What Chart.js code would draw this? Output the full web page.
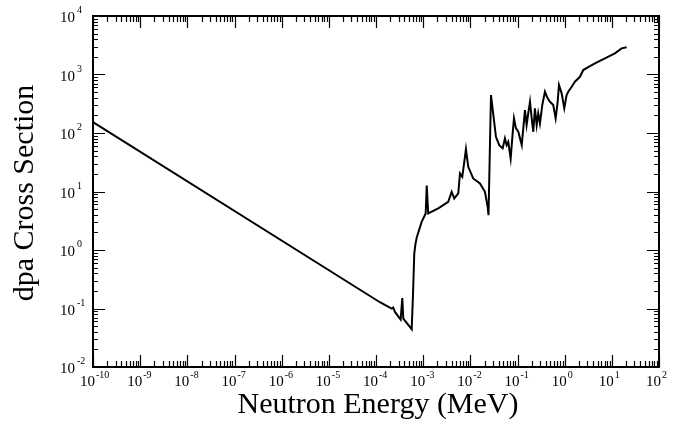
<!DOCTYPE html>
<html>
<head>
<meta charset="utf-8">
<script src="https://cdn.jsdelivr.net/npm/chart.js@4/dist/chart.umd.min.js"></script>
<style>
  html, body { margin: 0; padding: 0; background: #fff; }
  canvas { display: block; }
</style>
</head>
<body>
<canvas id="dpaChart" width="678" height="427"></canvas>
<script>
// neutron energy (MeV) and dpa cross section
const energy = [1e-10, 1.21e-4, 2.15e-4, 2.32e-4, 2.52e-4, 3.33e-4, 3.61e-4, 3.79e-4, 5.71e-4, 6.08e-4,
  6.48e-4, 6.81e-4, 7.28e-4, 9.29e-4, 1.13e-3, 1.19e-3, 1.28e-3, 2.09e-3, 3.40e-3, 4.02e-3,
  4.56e-3, 5.55e-3, 6.03e-3, 6.75e-3, 7.69e-3, 8.07e-3, 9.03e-3, 1.15e-2, 1.60e-2, 2.04e-2,
  2.33e-2, 2.43e-2, 2.74e-2, 3.17e-2, 3.49e-2, 4.10e-2, 4.85e-2, 5.42e-2, 5.89e-2, 6.37e-2,
  7.16e-2, 7.90e-2, 8.42e-2, 9.29e-2, 0.104, 0.123, 0.144, 0.156, 0.169, 0.184,
  0.200, 0.216, 0.234, 0.255, 0.275, 0.299, 0.335, 0.382, 0.436, 0.488,
  0.573, 0.644, 0.711, 0.757, 0.863, 0.981, 1.10, 1.19, 1.41, 1.65,
  2.11, 2.48, 3.44, 4.39, 7.14, 11.6, 16.1, 20.6];
const dpa = [154, 0.128, 0.0998, 0.104, 0.0873, 0.0647, 0.151, 0.0673, 0.0442, 0.169,
  0.871, 1.21, 1.62, 3.03, 4.21, 12.6, 4.21, 5.13, 6.65, 9.86,
  7.60, 9.27, 20.4, 17.8, 39.2, 53.1, 26.4, 16.7, 13.7, 9.86,
  5.46, 3.94, 445, 166, 86.1, 62.1, 54.6, 80.9, 62.1, 70.6,
  36.7, 98.4, 178, 120, 105, 62.1, 247, 136, 216, 342,
  178, 105, 264, 136, 216, 146, 300, 507, 391, 342,
  300, 178, 342, 661, 476, 264, 445, 507, 617, 752,
  914, 1191, 1396, 1552, 1889, 2300, 2800, 2912];

// decade exponents used for tick labels
const xExponents = [-10, -9, -8, -7, -6, -5, -4, -3, -2, -1, 0, 1, 2];
const yExponents = [-2, -1, 0, 1, 2, 3, 4];

const xTitle = 'Neutron Energy (MeV)';
const yTitle = 'dpa Cross Section';

const SERIF = '"Liberation Serif", "DejaVu Serif", serif';

// frame, inward ticks on all four sides, power-of-ten labels, axis titles
const framePlugin = {
  id: 'frame',
  afterDraw(chart) {
    const { ctx, chartArea: a, scales: { x, y } } = chart;
    ctx.save();
    ctx.strokeStyle = '#000';
    ctx.fillStyle = '#000';

    ctx.lineWidth = 1.2;
    ctx.beginPath();
    xExponents.forEach((e, i) => {
      const px = Math.round(x.getPixelForValue(Math.pow(10, e))) + 0.5;
      ctx.moveTo(px, a.bottom); ctx.lineTo(px, a.bottom - 12);
      ctx.moveTo(px, a.top); ctx.lineTo(px, a.top + 12);
      if (i < xExponents.length - 1) {
        for (let m = 2; m <= 9; m++) {
          const mx = Math.round(x.getPixelForValue(m * Math.pow(10, e))) + 0.5;
          ctx.moveTo(mx, a.bottom); ctx.lineTo(mx, a.bottom - 6);
          ctx.moveTo(mx, a.top); ctx.lineTo(mx, a.top + 6);
        }
      }
    });
    yExponents.forEach((e, i) => {
      const py = Math.round(y.getPixelForValue(Math.pow(10, e))) + 0.5;
      ctx.moveTo(a.left, py); ctx.lineTo(a.left + 12, py);
      ctx.moveTo(a.right, py); ctx.lineTo(a.right - 12, py);
      if (i < yExponents.length - 1) {
        for (let m = 2; m <= 9; m++) {
          const my = Math.round(y.getPixelForValue(m * Math.pow(10, e))) + 0.5;
          ctx.moveTo(a.left, my); ctx.lineTo(a.left + 5, my);
          ctx.moveTo(a.right, my); ctx.lineTo(a.right - 5, my);
        }
      }
    });
    ctx.stroke();

    ctx.lineWidth = 2;
    ctx.strokeRect(a.left, a.top, a.right - a.left, a.bottom - a.top);

    // x tick labels
    xExponents.forEach(e => {
      const px = x.getPixelForValue(Math.pow(10, e));
      ctx.font = '15px ' + SERIF;
      ctx.textAlign = 'right';
      ctx.textBaseline = 'alphabetic';
      ctx.fillText('10', px + 2, a.bottom + 19);
      ctx.font = '10px ' + SERIF;
      ctx.textAlign = 'left';
      ctx.fillText(String(e).replace('-', '\u2011'), px + 3, a.bottom + 11);
    });

    // y tick labels
    yExponents.forEach(e => {
      const py = y.getPixelForValue(Math.pow(10, e));
      ctx.font = '15px ' + SERIF;
      ctx.textAlign = 'left';
      ctx.textBaseline = 'alphabetic';
      ctx.fillText('10', 60, py + 6);
      const w = ctx.measureText('10').width;
      ctx.font = '10px ' + SERIF;
      ctx.fillText(String(e).replace('-', '\u2011'), 60 + w + 2, py - 3);
    });

    // axis titles
    ctx.font = '30px ' + SERIF;
    ctx.textAlign = 'center';
    ctx.textBaseline = 'alphabetic';
    ctx.fillText(xTitle, 378, 413);
    ctx.translate(33, 193);
    ctx.rotate(-Math.PI / 2);
    ctx.fillText(yTitle, 0, 0);
    ctx.restore();
  }
};

new Chart(document.getElementById('dpaChart'), {
  type: 'scatter',
  data: {
    datasets: [{
      data: energy.map((e, i) => ({ x: e, y: dpa[i] })),
      showLine: true,
      borderColor: '#000',
      borderWidth: 2,
      pointRadius: 0,
      tension: 0,
      clip: 2,
    }]
  },
  options: {
    responsive: false,
    animation: false,
    devicePixelRatio: 1,
    layout: { padding: { left: 93, right: 19, top: 16, bottom: 60 } },
    plugins: { legend: { display: false }, tooltip: { enabled: false } },
    scales: {
      x: { type: 'logarithmic', min: 1e-10, max: 100, display: false },
      y: { type: 'logarithmic', min: 0.01, max: 10000, display: false },
    }
  },
  plugins: [framePlugin]
});
</script>
</body>
</html>
